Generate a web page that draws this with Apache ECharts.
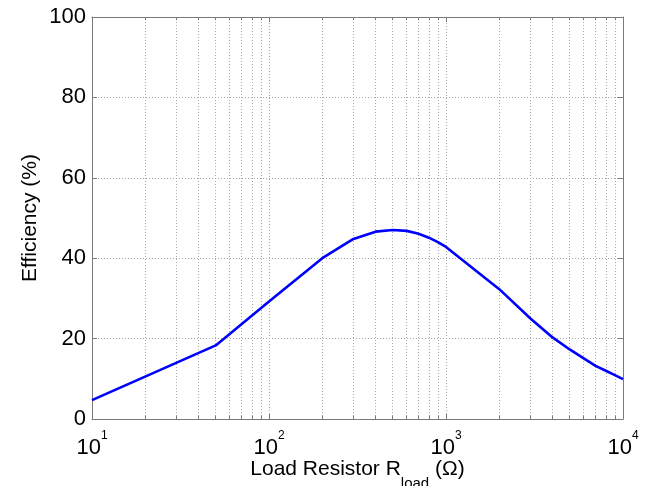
<!DOCTYPE html>
<html>
<head>
<meta charset="utf-8">
<script src="https://cdn.jsdelivr.net/npm/echarts@6/dist/echarts.min.js"></script>
<style>
html,body{margin:0;padding:0;background:#fff;}
#chart{width:652px;height:486px;}
</style>
</head>
<body>
<div id="chart"></div>
<script>
// Data
const loadResistance = [10, 50, 100, 200, 300, 400, 500, 600, 700, 800, 900, 1000, 2000, 3000, 4000, 5000, 6000, 7000, 8000, 9000, 10000];
const efficiency = [4.7, 18.3, 29.2, 40.0, 44.8, 46.6, 47.0, 46.8, 46.1, 45.1, 44.0, 42.8, 32.3, 25.0, 20.3, 17.3, 15.1, 13.2, 12.0, 10.9, 9.9];
const minorTicks = [20, 30, 40, 50, 60, 70, 80, 90, 200, 300, 400, 500, 600, 700, 800, 900, 2000, 3000, 4000, 5000, 6000, 7000, 8000, 9000];
const yTicks = [0, 20, 40, 60, 80, 100];
const xRange = [10, 10000];

const FONT = 'Liberation Sans';
const AXIS_COLOR = '#7a7a7a';
const GRID_COLOR = '#a8a8a8';

const seriesData = loadResistance.map((r, i) => [r, efficiency[i]]);
const yMin = yTicks[0], yMax = yTicks[yTicks.length - 1];

const minorGrid = minorTicks.map(v => ({ xAxis: v }));
const minorTickMarks = [];
minorTicks.forEach(v => {
  minorTickMarks.push([{ coord: [v, yMin] }, { coord: [v, yMin + 0.8] }]);
  minorTickMarks.push([{ coord: [v, yMax] }, { coord: [v, yMax - 0.8] }]);
});

const chart = echarts.init(document.getElementById('chart'), null, { renderer: 'canvas' });
const option = {
  animation: false,
  backgroundColor: '#ffffff',
  grid: { left: 92, right: 29, top: 17, bottom: 67, containLabel: false, outerBoundsMode: 'none' },
  xAxis: [{
    type: 'log', logBase: 10, min: xRange[0], max: xRange[1], position: 'bottom',
    axisLine: { show: true, onZero: false, lineStyle: { color: AXIS_COLOR, width: 1 } },
    axisTick: { show: true, inside: true, length: 5, lineStyle: { color: AXIS_COLOR } },
    splitLine: { show: true, lineStyle: { color: GRID_COLOR, type: [1, 2], width: 1 } },
    axisLabel: {
      show: true, margin: 11, showMinLabel: true, showMaxLabel: true,
      formatter: v => '{b|10}{s|' + Math.round(Math.log10(v)) + '}',
      rich: {
        b: { fontSize: 22, fontFamily: FONT, color: '#000', lineHeight: 22, padding: [7, 0, 0, 0], verticalAlign: 'top' },
        s: { fontSize: 12, fontFamily: FONT, color: '#000', lineHeight: 12, verticalAlign: 'top' }
      }
    },
    name: '{a|Load Resistor R}{sub|load}{a| (Ω)}',
    nameLocation: 'middle', nameGap: 40, nameMoveOverlap: false,
    nameTextStyle: {
      rich: {
        a: { fontSize: 21, fontFamily: FONT, color: '#000', lineHeight: 24, verticalAlign: 'top' },
        sub: { fontSize: 15, fontFamily: FONT, color: '#000', lineHeight: 15, verticalAlign: 'top', padding: [17, 0, 0, 0] }
      }
    }
  }, {
    type: 'log', logBase: 10, min: xRange[0], max: xRange[1], position: 'top',
    axisLine: { show: true, onZero: false, lineStyle: { color: AXIS_COLOR, width: 1 } },
    axisTick: { show: true, inside: true, length: 5, lineStyle: { color: AXIS_COLOR } },
    splitLine: { show: false },
    axisLabel: { show: false }
  }],
  yAxis: [{
    type: 'value', min: yMin, max: yMax, interval: 20, position: 'left',
    axisLine: { show: true, onZero: false, lineStyle: { color: AXIS_COLOR, width: 1 } },
    axisTick: { show: true, inside: true, length: 5, lineStyle: { color: AXIS_COLOR } },
    splitLine: { show: true, lineStyle: { color: GRID_COLOR, type: [1, 2], width: 1 } },
    axisLabel: { show: true, margin: 6, fontSize: 22, fontFamily: FONT, color: '#000' },
    name: 'Efficiency (%)', nameLocation: 'middle', nameGap: 51, nameRotate: 90, nameMoveOverlap: false,
    nameTextStyle: { fontSize: 21, fontFamily: FONT, color: '#000' }
  }, {
    type: 'value', min: yMin, max: yMax, interval: 20, position: 'right',
    axisLine: { show: true, onZero: false, lineStyle: { color: AXIS_COLOR, width: 1 } },
    axisTick: { show: true, inside: true, length: 5, lineStyle: { color: AXIS_COLOR } },
    splitLine: { show: false },
    axisLabel: { show: false }
  }],
  series: [{
    type: 'line', xAxisIndex: 0, yAxisIndex: 0,
    data: seriesData,
    showSymbol: false, symbol: 'none',
    lineStyle: { color: '#0000ff', width: 2.6 },
    z: 5,
    markLine: {
      silent: true, symbol: ['none', 'none'], label: { show: false },
      lineStyle: { color: GRID_COLOR, type: [1, 2], width: 1 },
      emphasis: { disabled: true },
      data: minorGrid
    }
  }, {
    type: 'line', xAxisIndex: 0, yAxisIndex: 0, data: [], symbol: 'none',
    markLine: {
      silent: true, symbol: ['none', 'none'], label: { show: false },
      lineStyle: { color: AXIS_COLOR, type: 'solid', width: 1 },
      emphasis: { disabled: true },
      data: minorTickMarks
    }
  }]
};
chart.setOption(option);
</script>
</body>
</html>
